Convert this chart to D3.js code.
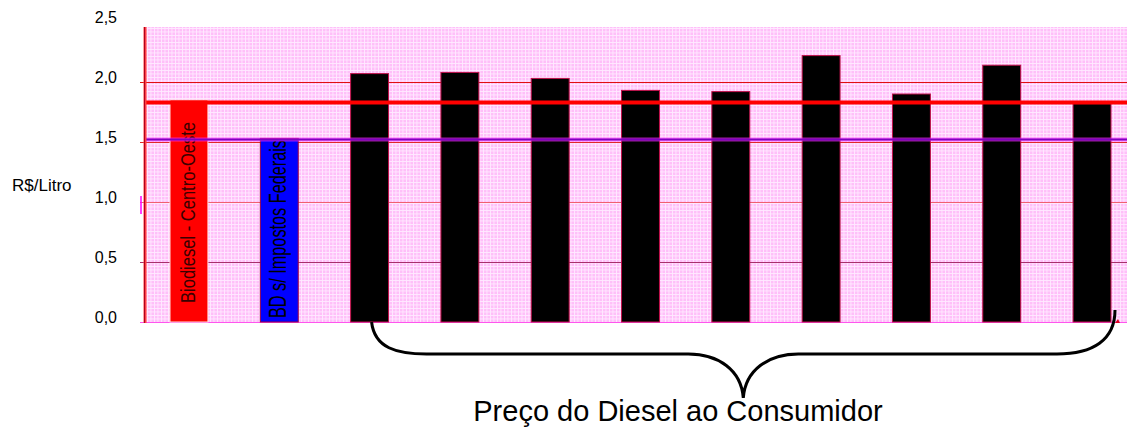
<!DOCTYPE html>
<html>
<head>
<meta charset="utf-8">
<script src="https://cdn.jsdelivr.net/npm/d3@7"></script>
<style>
  html, body { margin: 0; padding: 0; background: #ffffff; }
  svg { display: block; font-family: "Liberation Sans", Arial, sans-serif; }
</style>
</head>
<body>
<svg id="chart" width="1127" height="427"></svg>
<script>
// Price per litre: biodiesel, biodiesel without federal taxes, and diesel at the pump
const categories = ["BIO-CO", "BD-SIF", "D1", "D2", "D3", "D4", "D5", "D6", "D7", "D8", "D9"];
const values = [1.85, 1.53, 2.07, 2.08, 2.03, 1.93, 1.92, 2.22, 1.90, 2.14, 1.82];
const barLabels = ["Biodiesel - Centro-Oeste", "BD s/ Impostos Federais", "", "", "", "", "", "", "", "", ""];
const refValues = [1.83, 1.52];
const tickValues = [0, 0.5, 1.0, 1.5, 2.0, 2.5];
const tickLabels = ["0,0", "0,5", "1,0", "1,5", "2,0", "2,5"];
const yTitle = "R$/Litro";
const braceCaption = "Preço do Diesel ao Consumidor";

const svg = d3.select("#chart");
const W = 1127;
const plotLeft = 145, plotTop = 27;

const y = d3.scaleLinear().domain([0, 2.5]).range([322, 22]);
const x = d3.scaleBand().domain(categories).range([170, 1111]).paddingInner(0.58).paddingOuter(0);
const bw = x.bandwidth();

// Pink plot area with a fine light grid texture
const defs = svg.append("defs");
const pat = defs.append("pattern")
  .attr("id", "bgtex").attr("patternUnits", "userSpaceOnUse")
  .attr("width", 3.5).attr("height", 3.5);
pat.append("rect").attr("width", 3.5).attr("height", 3.5).attr("fill", "#ffbff9");
pat.append("rect").attr("width", 3.5).attr("height", 0.9).attr("fill", "#ffe9ff");
pat.append("rect").attr("width", 0.9).attr("height", 3.5).attr("fill", "#ffe9ff");

svg.append("rect")
  .attr("x", plotLeft).attr("y", plotTop)
  .attr("width", W - plotLeft).attr("height", y(0) - plotTop)
  .attr("fill", "url(#bgtex)");

// Horizontal grid lines, with short ticks left of the axis
const gridColor = { 0.5: "#a8306c", 1.0: "#f06070", 1.5: "#e02828", 2.0: "#e01010" };
svg.append("g").selectAll("line")
  .data(tickValues.filter(v => v > 0 && v < 2.5))
  .join("line")
  .attr("x1", 140).attr("x2", W)
  .attr("y1", d => Math.round(y(d)) + 0.5).attr("y2", d => Math.round(y(d)) + 0.5)
  .attr("stroke", d => gridColor[d]).attr("stroke-width", 1);

// Bottom edge of the plot
svg.append("line")
  .attr("x1", 140).attr("x2", W)
  .attr("y1", y(0) + 0.5).attr("y2", y(0) + 0.5)
  .attr("stroke", "#ff55ee").attr("stroke-width", 1);

// Bars
const fills = ["#ff0000", "#0000ff", "#000000", "#000000", "#000000", "#000000", "#000000", "#000000", "#000000", "#000000", "#000000"];
const strokes = ["#ffe0e0", "#a00040", "#c0104a", "#c0104a", "#c0104a", "#c0104a", "#c0104a", "#c0104a", "#c0104a", "#c0104a", "#c0104a"];
svg.append("g").selectAll("rect")
  .data(values)
  .join("rect")
  .attr("x", (d, i) => x(categories[i]))
  .attr("y", d => y(d))
  .attr("width", bw)
  .attr("height", d => y(0) - y(d))
  .attr("fill", (d, i) => fills[i])
  .attr("stroke", (d, i) => strokes[i])
  .attr("stroke-width", 1);

// Vertical labels inside the two first bars
const labelStyle = [
  { size: 21, off: 6, len: 181, bottom: 303, color: "#3a0000" },
  { size: 24, off: 7, len: 178, bottom: 318, color: "#000000" }
];
barLabels.forEach((t, i) => {
  if (!t) return;
  const s = labelStyle[i];
  const cx = x(categories[i]) + bw / 2 + s.off;
  svg.append("text")
    .attr("transform", `translate(${cx},${s.bottom}) rotate(-90)`)
    .attr("font-size", s.size)
    .attr("font-family", "'Liberation Sans Narrow', 'Liberation Sans', Arial, sans-serif")
    .attr("fill", s.color)
    .attr("textLength", s.len)
    .attr("lengthAdjust", "spacingAndGlyphs")
    .text(t);
});

// Reference lines drawn over the bars
svg.append("line")
  .attr("x1", plotLeft).attr("x2", W)
  .attr("y1", y(refValues[0])).attr("y2", y(refValues[0]))
  .attr("stroke", "#ff0000").attr("stroke-width", 4);
svg.append("line")
  .attr("x1", plotLeft).attr("x2", W)
  .attr("y1", y(refValues[1])).attr("y2", y(refValues[1]))
  .attr("stroke", "#ff33ff").attr("stroke-width", 4).attr("opacity", 0.6);
svg.append("line")
  .attr("x1", plotLeft).attr("x2", W)
  .attr("y1", y(refValues[1])).attr("y2", y(refValues[1]))
  .attr("stroke", "#8000c0").attr("stroke-width", 2);

// Vertical axis line
svg.append("line")
  .attr("x1", 145).attr("x2", 145)
  .attr("y1", plotTop).attr("y2", y(0) + 1)
  .attr("stroke", "#ff4040").attr("stroke-width", 3);
svg.append("line")
  .attr("x1", 144.5).attr("x2", 144.5)
  .attr("y1", plotTop).attr("y2", y(0) + 1)
  .attr("stroke", "#b00020").attr("stroke-width", 1);
svg.append("line")
  .attr("x1", 141).attr("x2", 141)
  .attr("y1", 196).attr("y2", 214)
  .attr("stroke", "#ff00ff").attr("stroke-width", 1.5);

// Small red mark at the end of the baseline
svg.append("path")
  .attr("d", `M${W - 12},${y(0) + 1} l3,-4 l2,4 Z`)
  .attr("fill", "#e00020");

// Tick labels
svg.append("g").selectAll("text")
  .data(tickValues)
  .join("text")
  .attr("x", 117)
  .attr("y", d => y(d) + 1)
  .attr("text-anchor", "end")
  .attr("font-size", 16)
  .attr("fill", "#000")
  .text((d, i) => tickLabels[i]);

// Axis title
svg.append("text")
  .attr("x", 12).attr("y", 191)
  .attr("font-size", 17)
  .attr("fill", "#000")
  .text(yTitle);

// Curly brace grouping the consumer diesel prices
const bx0 = x(categories[2]) + bw / 2 + 2;
const bx1 = x(categories[categories.length - 1]) + bw + 4;
const bmid = (bx0 + bx1) / 2;
const by0 = y(0);
const byH = y(0) + 32;
const byTip = y(0) + 76;
const bp = d3.path();
bp.moveTo(bx0, by0);
bp.bezierCurveTo(bx0 + 3, by0 + 26, bx0 + 25, byH, bx0 + 55, byH);
bp.lineTo(bmid - 55, byH);
bp.bezierCurveTo(bmid - 25, byH, bmid - 2, byH + 16, bmid, byTip);
bp.bezierCurveTo(bmid + 2, byH + 16, bmid + 25, byH, bmid + 55, byH);
bp.lineTo(bx1 - 58, byH);
bp.bezierCurveTo(bx1 - 22, byH, bx1, byH - 14, bx1, by0 - 12);
svg.append("path")
  .attr("d", bp.toString())
  .attr("fill", "none")
  .attr("stroke", "#000")
  .attr("stroke-width", 3);

svg.append("text")
  .attr("x", 678).attr("y", 421)
  .attr("text-anchor", "middle")
  .attr("font-size", 29)
  .attr("fill", "#000")
  .text(braceCaption);
</script>
</body>
</html>
